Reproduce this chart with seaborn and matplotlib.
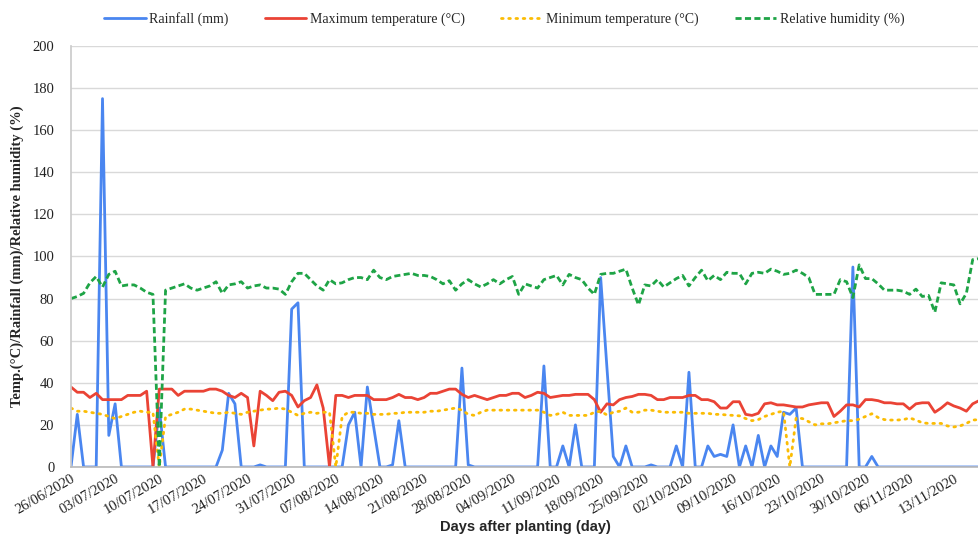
import numpy as np
import pandas as pd
import seaborn as sns
import matplotlib.pyplot as plt

# daily weather, 26/06/2020 .. 17/11/2020 (145 days)
rainfall = [0, 25, 0, 0, 0, 175, 15, 30, 0, 0, 0, 0, 0, 0, 28, 0, 0, 0, 0, 0,
            0, 0, 0, 0, 8, 35, 30, 0, 0, 0, 1, 0, 0, 0, 0, 75, 78, 0, 0, 0,
            0, 0, 0, 0, 20, 26, 0, 38, 19, 0, 0, 1, 22, 0, 0, 0, 0, 0, 0, 0,
            0, 0, 47, 1, 0, 0, 0, 0, 0, 0, 0, 0, 0, 0, 0, 48, 0, 0, 10, 0,
            20, 0, 0, 0, 90, 47, 5, 0, 10, 0, 0, 0, 1, 0, 0, 0, 10, 0, 45, 0,
            0, 10, 5, 6, 5, 20, 0, 10, 0, 15, 0, 10, 5, 26, 25, 28, 0, 0, 0, 0,
            0, 0, 0, 0, 95, 0, 0, 5, 0, 0, 0, 0, 0, 0, 0, 0, 0, 0, 0, 0,
            0, 0, 0, 0, 0]
max_temp = [38, 35.5, 35.5, 33, 35, 32, 32, 32, 32, 34, 34, 34, 36, 0, 37, 37, 37, 34, 36, 36,
            36, 36, 37, 37, 36, 34, 33, 35, 33, 10, 36, 34, 31.5, 35.5, 36, 34, 28.5, 31.5, 33, 39,
            28, 0, 34, 34, 33, 34, 34, 34, 32, 32, 32, 33, 34.5, 33, 33, 32, 33, 35, 35, 36,
            37, 37, 34.5, 33, 34, 33, 32, 33, 34, 34, 35, 35, 33, 34, 35.5, 35, 33, 33.5, 34, 34,
            34.5, 34.5, 34.5, 32, 26, 30, 29.5, 32, 33, 33.5, 34.5, 34.5, 34, 32, 32, 33, 33, 33, 34, 34,
            32, 32, 31, 28, 28, 31, 31, 25, 24.5, 25.5, 30, 30.5, 29.5, 29.5, 29, 28.5, 28.5, 29.5, 30, 30.5,
            30.5, 24, 26.5, 29.5, 29.5, 28.5, 32, 32, 31.5, 30.5, 30.5, 30, 30, 27.5, 30, 30.5, 30.5, 26, 28, 30.5,
            29, 28, 26.5, 30, 31.5]
min_temp = [28, 26.5, 26.5, 26, 25.5, 25, 24, 23, 24, 25, 26, 26.5, 26, 26, 0, 24, 25, 26, 27.5, 27.5,
            27, 26.5, 26, 25.5, 25.5, 26, 25.5, 25, 26, 26.5, 27, 27.5, 27.5, 28, 27.5, 26, 24.5, 25.5, 26, 25.5,
            26, 26, 0, 24, 26, 26, 25.5, 25.5, 25, 25, 25, 25.5, 25.5, 26, 26, 26, 26, 26.5, 26.5, 27,
            27.5, 28, 27, 25, 24.5, 26, 27, 27, 27, 27, 27, 27, 27, 27, 27, 26, 24.5, 25, 26, 24.5,
            24.5, 24.5, 24.5, 26, 26.5, 24.7, 26, 26.5, 28, 26, 26, 27, 27, 26.5, 26, 26, 26, 26, 25.5, 25.5,
            25.5, 25.5, 25, 25, 24.7, 24.5, 24.3, 23, 22, 22.5, 24, 25, 26, 26.5, 0, 23.3, 23, 21.5, 20, 20.5,
            20.5, 21, 21.5, 22, 22, 22.7, 24, 25.3, 23.5, 22.5, 22.3, 22.3, 22.5, 23.3, 22.3, 21, 20.7, 20.7, 20.7, 19.5,
            19, 19.5, 20.7, 22.3, 22.5]
humidity = [80, 81, 82.5, 87.5, 90.5, 85.5, 91.5, 93, 86, 86.5, 86.5, 85, 83, 82, 0, 84, 85, 86, 87, 85,
            84, 85, 86, 88, 82.5, 86.5, 87, 88, 85, 86, 86.5, 85, 85, 84.5, 82, 88, 92, 92, 89, 86,
            84, 89, 87, 87.5, 89, 90, 90, 89, 93.5, 90, 89, 90.5, 91, 91.5, 92, 91, 91, 90.5, 89, 87,
            88.5, 84, 87, 89, 87, 85.5, 87, 89, 87, 89, 90.5, 82, 87, 86, 85, 89, 90, 91, 86.5, 91.5,
            90, 89, 85, 82, 91.5, 92, 92, 93, 94, 85, 77, 86.5, 86, 89, 85.5, 87.5, 89.5, 91, 86, 90,
            93.5, 88.5, 91, 89, 92.5, 92, 92, 87, 92, 92.5, 92, 94, 93, 91.5, 92, 93.5, 92, 90, 82, 82,
            82, 82, 89, 88, 80.5, 96, 89.5, 89.5, 87, 84, 84, 84, 83.5, 82, 84.5, 81, 81.5, 73.5, 87.5, 87,
            86.5, 77.5, 82.5, 98.5, 99]

tick_labels = ["26/06/2020", "03/07/2020", "10/07/2020", "17/07/2020", "24/07/2020",
               "31/07/2020", "07/08/2020", "14/08/2020", "21/08/2020", "28/08/2020",
               "04/09/2020", "11/09/2020", "18/09/2020", "25/09/2020", "02/10/2020",
               "09/10/2020", "16/10/2020", "23/10/2020", "30/10/2020", "06/11/2020",
               "13/11/2020"]

df = pd.DataFrame({
    "day": np.arange(len(rainfall)),
    "Rainfall (mm)": rainfall,
    "Maximum temperature (°C)": max_temp,
    "Minimum temperature (°C)": min_temp,
    "Relative humidity (%)": humidity,
})

sns.set_theme(style="whitegrid")
plt.rcParams["font.family"] = ["Liberation Serif", "DejaVu Serif"]

fig = plt.figure(figsize=(9.79, 5.38), dpi=100)
ax = fig.add_axes([0.0725, 0.132, 0.9275, 0.7825])

sns.lineplot(data=df, x="day", y="Rainfall (mm)", ax=ax, color="#4a86f0",
             lw=2, label="Rainfall (mm)")
sns.lineplot(data=df, x="day", y="Maximum temperature (°C)", ax=ax, color="#ea4335",
             lw=2, label="Maximum temperature (°C)")
sns.lineplot(data=df, x="day", y="Minimum temperature (°C)", ax=ax, color="#fbbc04",
             lw=2, ls=(0, (0.6, 2.0)), dash_capstyle="round",
             label="Minimum temperature (°C)")
sns.lineplot(data=df, x="day", y="Relative humidity (%)", ax=ax, color="#1ea446",
             lw=2, ls=(0, (2.2, 1.2)), label="Relative humidity (%)")

ax.set_xlim(0, len(rainfall) - 1)
ax.set_ylim(0, 200)
ax.set_yticks(range(0, 201, 20))
ax.set_xticks(range(0, 7 * len(tick_labels), 7))
ax.set_xticklabels(tick_labels, rotation=30, ha="right", rotation_mode="anchor")
ax.tick_params(axis="both", labelsize=10.5, colors="#222222", length=0, pad=4)
ax.tick_params(axis="y", pad=12)
ax.grid(axis="x", visible=False)
ax.grid(axis="y", color="#d9d9d9", lw=1)
for s in ["top", "right"]:
    ax.spines[s].set_visible(False)
ax.spines["left"].set_color("#cccccc")
ax.spines["bottom"].set_color("#bbbbbb")

ax.set_xlabel("Days after planting (day)", fontsize=10.5, fontweight="bold",
              family="Liberation Sans", labelpad=2)
ax.set_ylabel("Temp.(°C)/Rainfall (mm)/Relative humidity (%)", fontsize=10.5,
              fontweight="bold", labelpad=6)

handles, labels = ax.get_legend_handles_labels()
ax.get_legend().remove()
fig.legend(handles, labels, loc="upper center", bbox_to_anchor=(0.515, 1.0),
           ncol=4, frameon=False, fontsize=10, handlelength=3,
           columnspacing=2.6, handletextpad=0.25)

fig.savefig("out.png", dpi=100)
